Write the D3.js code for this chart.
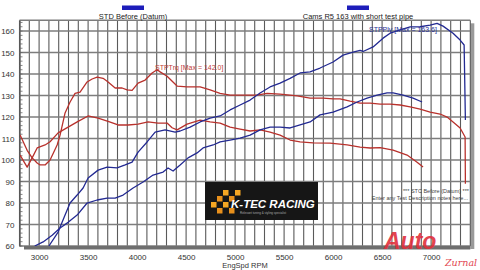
<!DOCTYPE html>
<html>
<head>
<meta charset="utf-8">
<script src="https://cdn.jsdelivr.net/npm/d3@7"></script>
<style>
  html, body { margin: 0; padding: 0; background: #fff; }
  svg { display: block; font-family: "Liberation Sans", Arial, sans-serif; }
</style>
</head>
<body>
<div id="chart"></div>
<script>
// rpm / value pairs
const trqAfter = [
  [2806, 111.6], [2878, 104.5], [2929, 101], [2980, 98.6], [3010, 97.7], [3061, 97.7],
  [3112, 100], [3184, 107], [3214, 111.6], [3265, 121.9], [3316, 127], [3367, 131],
  [3418, 131.6], [3490, 136.3], [3541, 137.7], [3592, 138.6], [3653, 138], [3704, 136.3],
  [3776, 133.5], [3847, 133.5], [3898, 132.6], [3949, 132.4], [4010, 135.8], [4082, 137.2],
  [4153, 140.5], [4204, 142], [4235, 141], [4306, 139], [4408, 134.4], [4510, 134],
  [4643, 134], [4745, 132.6], [4847, 131], [4949, 130.2], [5082, 130.2], [5224, 130.2],
  [5327, 131], [5459, 130.7], [5633, 129.8], [5765, 128.8], [5898, 128.8], [6000, 128.4],
  [6071, 128.4], [6173, 127.4], [6276, 126.5], [6378, 126.5], [6480, 126], [6582, 126],
  [6684, 125.6], [6786, 124.7], [6888, 123.7], [6990, 122.3], [7092, 121.4], [7163, 120],
  [7224, 117.7], [7296, 114.9], [7347, 110.7], [7350, 89]
];
const trqBefore = [
  [2806, 102.3], [2878, 96.7], [2929, 101], [2980, 105.6], [3061, 107], [3112, 108.5],
  [3194, 112.6], [3296, 115.3], [3398, 118], [3500, 120.5], [3602, 119.5], [3704, 118],
  [3806, 116.3], [3908, 116.3], [4010, 116.7], [4112, 117.7], [4214, 117.2], [4306, 117.2],
  [4357, 115], [4408, 114], [4510, 116.7], [4643, 118.6], [4745, 117.7], [4847, 117.2],
  [4949, 115.3], [5051, 114.4], [5153, 113.5], [5255, 114], [5357, 113], [5459, 111.6],
  [5561, 109.3], [5663, 108.4], [5796, 108], [5969, 107.9], [6143, 107], [6276, 106],
  [6378, 105.6], [6480, 105.8], [6612, 104.6], [6755, 102.3], [6857, 99], [6918, 96.7]
];
const pwrAfter = [
  [3100, 60], [3194, 66.5], [3265, 74.4], [3316, 80], [3388, 83.7], [3449, 87],
  [3500, 91.6], [3602, 95.3], [3694, 96.7], [3796, 96.3], [3878, 97.7], [3949, 99],
  [4010, 103.7], [4102, 108.4], [4184, 113], [4286, 114], [4388, 113], [4439, 113.5],
  [4541, 115.3], [4643, 117.7], [4745, 119.5], [4847, 120.5], [4949, 123.3], [5051, 125.6],
  [5153, 127.9], [5255, 131.2], [5357, 134], [5459, 135.8], [5561, 138], [5663, 140.5],
  [5765, 141], [5867, 142.8], [6000, 145.6], [6102, 148.8], [6204, 150.2], [6276, 151],
  [6306, 150.5], [6408, 152.6], [6510, 156.7], [6582, 159], [6684, 160.5], [6786, 161.9],
  [6888, 162], [6990, 162.8], [7061, 163.6], [7122, 162.3], [7224, 159], [7296, 155.8],
  [7337, 153.5], [7350, 118.6]
];
const pwrBefore = [
  [2955, 60], [3041, 61.9], [3133, 65], [3214, 68.4], [3296, 71], [3388, 74.4],
  [3490, 80], [3592, 81.4], [3694, 82.3], [3776, 82.3], [3857, 83.7], [3959, 87],
  [4061, 89.8], [4163, 93], [4265, 94.4], [4316, 96.3], [4367, 94.9], [4439, 97.7],
  [4520, 101], [4612, 103.3], [4673, 105.6], [4776, 107], [4847, 108.4], [4949, 109.3],
  [5051, 110.2], [5153, 111.6], [5255, 114], [5357, 115.3], [5459, 115.3], [5561, 114.9],
  [5663, 116.3], [5765, 117.7], [5867, 121], [6000, 122.3], [6143, 124.7], [6245, 127],
  [6347, 128.8], [6449, 130.2], [6551, 131.2], [6612, 131.2], [6714, 130.2], [6816, 128.8],
  [6908, 127]
];
const xTicks = [3000, 3500, 4000, 4500, 5000, 5500, 6000, 6500, 7000];
const yTicks = [60, 70, 80, 90, 100, 110, 120, 130, 140, 150, 160];
const legendNames = ["STD Before (Datum)", "Cams R5 163 with short test pipe"];

const W = 480, H = 270;
const red = "#b8312c", blue = "#232a92";

const x = d3.scaleLinear().domain([2800, 7400]).range([19.5, 470.3]);
const y = d3.scaleLinear().domain([60, 165]).range([246, 20.3]);

const svg = d3.select("#chart").append("svg").attr("width", W).attr("height", H);

// shadow on the right side of plot
svg.append("rect")
  .attr("x", x(7400)).attr("y", y(165) + 3).attr("width", 4).attr("height", y(60) - y(165))
  .attr("fill", "#9a9a9a");

// vertical grid every 100 rpm
svg.append("g")
  .selectAll("line")
  .data(d3.range(2800, 7401, 100))
  .enter().append("line")
  .attr("x1", d => x(d)).attr("x2", d => x(d))
  .attr("y1", y(165)).attr("y2", y(60))
  .attr("stroke", "#5a5a5a").attr("stroke-width", 1.1);

// horizontal grid
svg.append("g")
  .selectAll("line")
  .data(yTicks.concat([165]))
  .enter().append("line")
  .attr("x1", x(2800)).attr("x2", x(7400))
  .attr("y1", d => y(d)).attr("y2", d => y(d))
  .attr("stroke", "#7d7d7d").attr("stroke-width", 1.5);

// left axis with minor ticks
const yAxis = svg.append("g")
  .attr("transform", `translate(${x(2800)},0)`)
  .call(d3.axisLeft(y).tickValues(yTicks).tickSize(0).tickPadding(5));
yAxis.select(".domain").attr("stroke", "#555").attr("stroke-width", 1.3);
yAxis.selectAll("text").attr("font-size", 8).attr("fill", "#333")
  .attr("font-family", "Liberation Sans, Arial, sans-serif");

svg.append("g")
  .selectAll("line")
  .data(d3.range(60, 165, 2))
  .enter().append("line")
  .attr("x1", x(2800)).attr("x2", x(2800) + 3)
  .attr("y1", d => y(d)).attr("y2", d => y(d))
  .attr("stroke", "#666").attr("stroke-width", 0.8);

// thick bottom bar
svg.append("rect")
  .attr("x", 24).attr("y", y(60)).attr("width", x(7400) - 24).attr("height", 3.5)
  .attr("fill", "#6e6e6e");

const xAxis = svg.append("g")
  .attr("transform", `translate(0,${y(60) + 3})`)
  .call(d3.axisBottom(x).tickValues(xTicks).tickFormat(d3.format("d")).tickSize(0).tickPadding(5));
xAxis.select(".domain").remove();
xAxis.selectAll("text").attr("font-size", 8).attr("fill", "#333")
  .attr("font-family", "Liberation Sans, Arial, sans-serif");

svg.append("text")
  .text("EngSpd RPM")
  .attr("x", 245).attr("y", 268)
  .attr("text-anchor", "middle").attr("font-size", 7.5).attr("fill", "#333");

// legend
const legend = svg.append("g");
legendNames.forEach((name, i) => {
  const cx = i === 0 ? 133 : 358;
  legend.append("rect")
    .attr("x", cx - 11).attr("y", 5.5).attr("width", 22).attr("height", 4.5)
    .attr("fill", "#1d1dba");
  legend.append("text")
    .text(name)
    .attr("x", cx).attr("y", 18.5)
    .attr("text-anchor", "middle").attr("font-size", 7.5).attr("fill", "#222");
});

// logo
const logo = svg.append("g");
logo.append("rect")
  .attr("x", 205).attr("y", 182).attr("width", 113).attr("height", 38)
  .attr("fill", "#161616");
const sq = [[211, 202], [217, 196], [223, 190], [229, 196], [235, 190], [217, 208], [223, 202], [229, 208]];
logo.selectAll("rect.sq")
  .data(sq)
  .enter().append("rect")
  .attr("class", "sq")
  .attr("x", d => d[0]).attr("y", d => d[1]).attr("width", 5.5).attr("height", 5.5)
  .attr("fill", (d, i) => i % 2 ? "#e8901c" : "#f5a623");
logo.append("text")
  .text("K-TEC RACING")
  .attr("x", 231).attr("y", 208)
  .attr("font-size", 11.5).attr("font-weight", "bold").attr("font-style", "italic")
  .attr("fill", "#fff");
logo.append("text")
  .text("Relevant tuning & styling specialist")
  .attr("x", 240).attr("y", 214)
  .attr("font-size", 3).attr("fill", "#aaa");

// curves
const line = d3.line().x(d => x(d[0])).y(d => y(d[1]));
svg.append("defs").append("clipPath").attr("id", "plot")
  .append("rect").attr("x", x(2800)).attr("y", y(165)).attr("width", x(7400) - x(2800)).attr("height", y(60) - y(165));

const curves = [
  [trqBefore, red], [trqAfter, red], [pwrBefore, blue], [pwrAfter, blue]
];
svg.append("g").attr("clip-path", "url(#plot)")
  .selectAll("path")
  .data(curves)
  .enter().append("path")
  .attr("d", d => line(d[0]))
  .attr("fill", "none")
  .attr("stroke", d => d[1])
  .attr("stroke-width", 1.3)
  .attr("stroke-linejoin", "round");

// annotations
svg.append("text")
  .text("STPTrq [Max = 142.0]")
  .attr("x", 155).attr("y", 69.5)
  .attr("font-size", 7).attr("fill", "#c0403a");
svg.append("text")
  .text("STPPly [Max = 163.6]")
  .attr("x", 369).attr("y", 31.5)
  .attr("font-size", 7).attr("fill", "#2a3296");

svg.append("text")
  .text("*** STC Before (Datum) ***")
  .attr("x", 469).attr("y", 193)
  .attr("text-anchor", "end").attr("font-size", 5.5).attr("fill", "#444");
svg.append("text")
  .text("Enter any Test Description notes here...")
  .attr("x", 468).attr("y", 200)
  .attr("text-anchor", "end").attr("font-size", 5.5).attr("fill", "#444");

// watermark
svg.append("text")
  .text("Auto")
  .attr("x", 384).attr("y", 249)
  .attr("font-size", 23).attr("font-weight", "bold").attr("font-style", "italic")
  .attr("fill", "#e0303c").attr("opacity", 0.9);
svg.append("text")
  .text("Zurnal")
  .attr("x", 445).attr("y", 266)
  .attr("font-size", 9.5).attr("font-style", "italic")
  .attr("font-family", "DejaVu Serif, serif")
  .attr("fill", "#e0303c").attr("opacity", 0.9);
</script>
</body>
</html>
